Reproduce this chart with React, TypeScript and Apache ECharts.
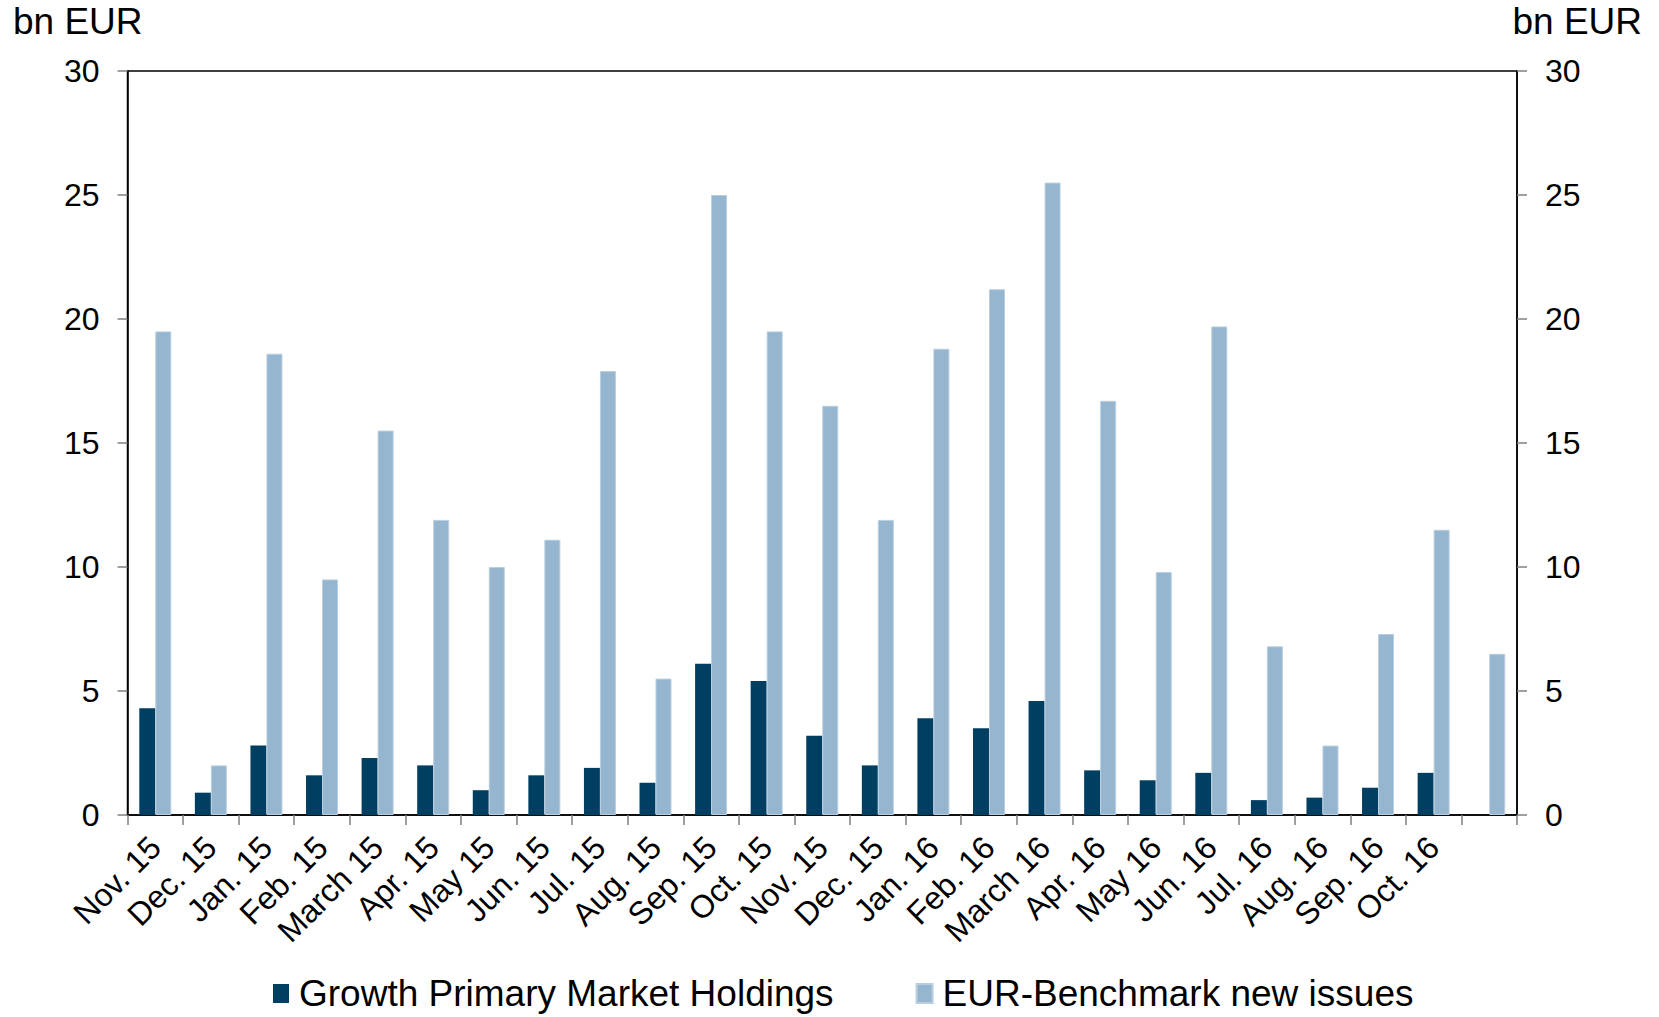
import React, { useEffect, useRef } from "react";
import * as echarts from "echarts";

const categories = [
  "Nov. 15", "Dec. 15", "Jan. 15", "Feb. 15", "March 15", "Apr. 15", "May 15", "Jun. 15",
  "Jul. 15", "Aug. 15", "Sep. 15", "Oct. 15", "Nov. 15", "Dec. 15", "Jan. 16", "Feb. 16",
  "March 16", "Apr. 16", "May 16", "Jun. 16", "Jul. 16", "Aug. 16", "Sep. 16", "Oct. 16", "",
];

const growthHoldings = [
  4.3, 0.9, 2.8, 1.6, 2.3, 2.0, 1.0, 1.6, 1.9, 1.3, 6.1, 5.4, 3.2, 2.0, 3.9, 3.5,
  4.6, 1.8, 1.4, 1.7, 0.6, 0.7, 1.1, 1.7, null,
];

const benchmarkIssues = [
  19.5, 2.0, 18.6, 9.5, 15.5, 11.9, 10.0, 11.1, 17.9, 5.5, 25.0, 19.5, 16.5, 11.9, 18.8, 21.2,
  25.5, 16.7, 9.8, 19.7, 6.8, 2.8, 7.3, 11.5, 6.5,
];

const seriesNames = ["Growth Primary Market Holdings", "EUR-Benchmark new issues"];
const unitLabel = "bn EUR";

const FONT = "'Liberation Sans', Arial, sans-serif";
const DARK = "#003F62";
const LIGHT = "#96B5CE";

export default function App() {
  const ref = useRef<HTMLDivElement>(null);

  useEffect(() => {
    if (!ref.current) return;
    const chart = echarts.init(ref.current, null, { renderer: "svg" });
    const yAxisBase = {
      type: "value" as const,
      min: 0,
      max: 30,
      interval: 5,
      splitLine: { show: false },
      axisLine: { show: true, lineStyle: { color: "#000", width: 1.5 } },
      axisTick: { show: true, length: 10, lineStyle: { color: "#7f7f7f", width: 1.5 } },
      axisLabel: { color: "#000", fontSize: 32, fontFamily: FONT, margin: 28 },
    };
    chart.setOption({
      animation: false,
      backgroundColor: "#fff",
      grid: {
        left: 127.5,
        right: 142,
        top: 71,
        bottom: 202,
        show: true,
        borderColor: "#000",
        borderWidth: 1.5,
        containLabel: false,
      },
      legend: {
        bottom: 0,
        left: 268,
        itemWidth: 16,
        itemHeight: 19,
        itemGap: 82,
        icon: "rect",
        textStyle: { color: "#000", fontSize: 37, fontFamily: FONT, padding: [0, 0, 0, 5] },
        data: seriesNames,
      },
      graphic: [
        {
          type: "text",
          left: 13,
          top: 3,
          style: { text: unitLabel, fontSize: 37, fontFamily: FONT, fill: "#000" },
        },
        {
          type: "text",
          right: 17,
          top: 3,
          style: { text: unitLabel, fontSize: 37, fontFamily: FONT, fill: "#000" },
        },
      ],
      xAxis: {
        type: "category",
        data: categories,
        boundaryGap: true,
        axisLine: { show: true, lineStyle: { color: "#000", width: 1.5 } },
        axisTick: { show: true, interval: 0, length: 10, lineStyle: { color: "#7f7f7f", width: 1.5 } },
        axisLabel: {
          interval: 0,
          rotate: 45,
          color: "#000",
          fontSize: 32,
          fontFamily: FONT,
          margin: 27,
        },
      },
      yAxis: [
        { ...yAxisBase, position: "left" },
        { ...yAxisBase, position: "right" },
      ],
      series: [
        {
          name: seriesNames[0],
          type: "bar",
          data: growthHoldings,
          barWidth: 16,
          barGap: "0%",
          itemStyle: { color: DARK },
        },
        {
          name: seriesNames[1],
          type: "bar",
          data: benchmarkIssues,
          barWidth: 16,
          barGap: "0%",
          itemStyle: { color: LIGHT, borderColor: "#b9cfe0", borderWidth: 1 },
        },
      ],
    });
    return () => chart.dispose();
  }, []);

  return (
    <div
      ref={ref}
      style={{ position: "fixed", left: 0, top: 0, width: 1659, height: 1017 }}
    />
  );
}
